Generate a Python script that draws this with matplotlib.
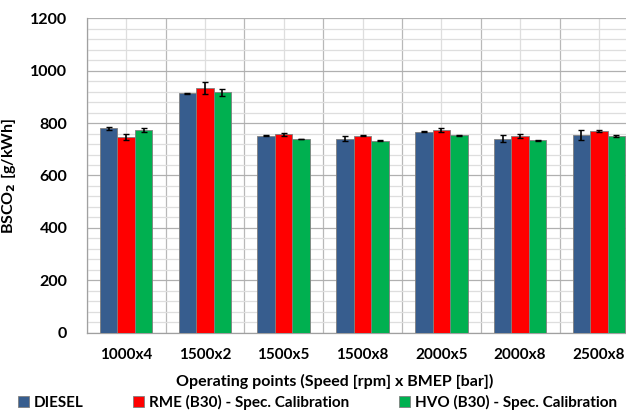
import matplotlib
matplotlib.use("Agg")
import matplotlib.pyplot as plt
import numpy as np
from matplotlib.ticker import MultipleLocator, FixedLocator

categories = ["1000x4", "1500x2", "1500x5", "1500x8", "2000x5", "2000x8", "2500x8"]
diesel = [780, 914, 752, 741, 767, 741, 755]
rme = [748, 933, 757, 752, 774, 751, 770]
hvo = [774, 918, 739, 732, 753, 734, 751]
diesel_err = [6, 2, 3, 9, 2, 13, 19]
rme_err = [11, 22, 6, 3, 9, 8, 4]
hvo_err = [9, 13, 1, 2, 2, 3, 3]
series_names = ["DIESEL", "RME (B30) - Spec. Calibration", "HVO (B30) - Spec. Calibration"]
colors = ["#375D8E", "#FF0000", "#00B050"]

plt.rcParams['font.family'] = ['Lato', 'DejaVu Sans']
plt.rcParams['font.weight'] = 'bold'

fig = plt.figure(figsize=(6.26, 4.15), dpi=100)
ax = fig.add_axes([86.7/626, 1-332.7/415, 551.6/626, (332.7-18.3)/415])

x = np.arange(len(categories))
w = 0.223
data = [diesel, rme, hvo]
errs = [diesel_err, rme_err, hvo_err]
for i, (vals, e, c, n) in enumerate(zip(data, errs, colors, series_names)):
    ax.bar(x + (i-1)*w, vals, w, color=c, edgecolor="#7f7f7f", linewidth=0.6, label=n, zorder=3,
           yerr=e, error_kw=dict(ecolor="black", elinewidth=1.2, capsize=2.5, capthick=1.0, zorder=4))

ax.set_xlim(-0.5, len(categories)-0.5)
ax.set_ylim(0, 1200)
ax.yaxis.set_major_locator(MultipleLocator(200))
ax.yaxis.set_minor_locator(MultipleLocator(40))
ax.set_xticks(x)
ax.set_xticklabels(categories)
ax.xaxis.set_minor_locator(FixedLocator(np.arange(-0.5, len(categories), 1.0)))
ax.grid(which='major', axis='y', color='#b0b0b0', linewidth=0.9, zorder=0)
ax.grid(which='minor', axis='y', color='#dedede', linewidth=0.9, zorder=0)
ax.grid(which='minor', axis='x', color='#b8b8b8', linewidth=0.9, zorder=0)
ax.grid(which='major', axis='x', color='#dedede', linewidth=0.9, zorder=0)
ax.set_axisbelow(True)
ax.tick_params(which='both', length=0)
ax.tick_params(axis='y', pad=14, labelsize=11.5)
ax.tick_params(axis='x', pad=11, labelsize=11)
for s in ['top', 'right']:
    ax.spines[s].set_visible(False)
for s in ['left', 'bottom']:
    ax.spines[s].set_color('#a0a0a0')
    ax.spines[s].set_linewidth(0.9)

ax.set_ylabel("BSCO$_2$ [g/kWh]", fontsize=11.5, fontweight='bold', labelpad=9)
fig.text(0.535, 1-381/415, "Operating points (Speed [rpm] x BMEP [bar])", ha='center', va='center',
         fontsize=11.5, fontweight='bold')

fig.legend(loc='center', bbox_to_anchor=(0.507, 1-402/415), ncol=3, frameon=False, fontsize=11,
           handlelength=0.7, handleheight=0.7, handletextpad=0.3, columnspacing=3.3)

fig.savefig("out.png", dpi=100)
